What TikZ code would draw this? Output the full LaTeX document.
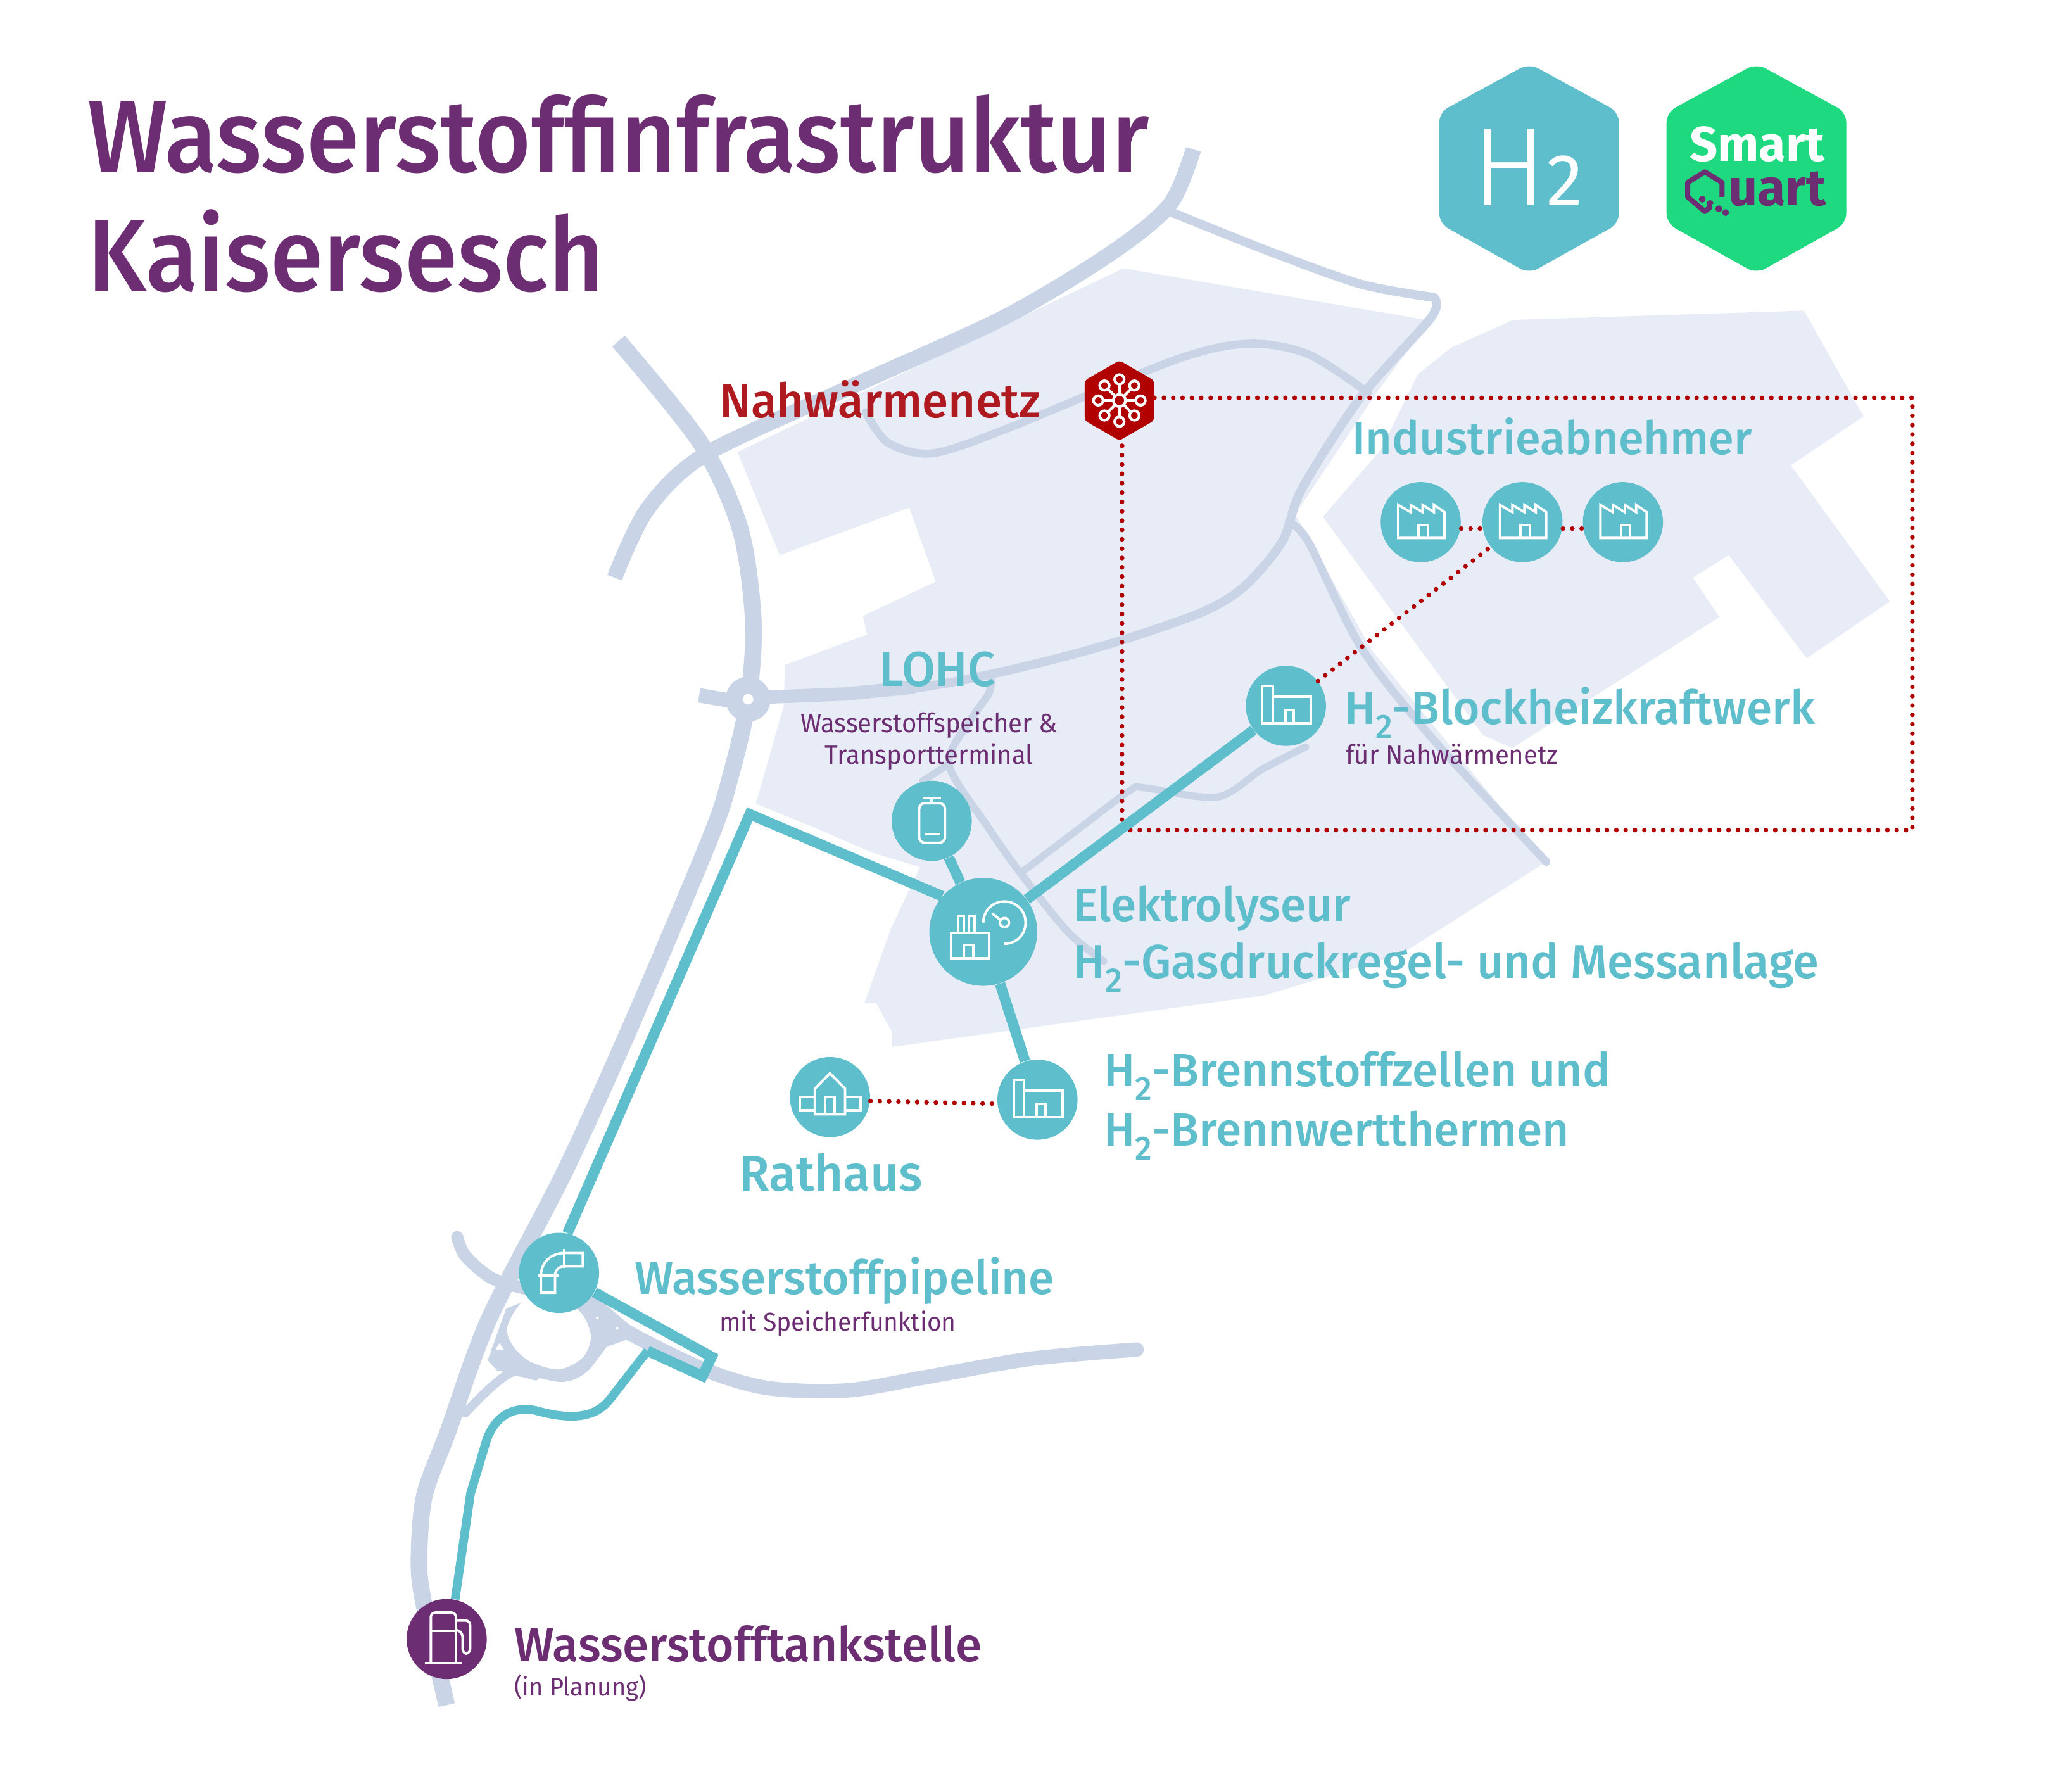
\documentclass[tikz,border=0pt]{standalone}
\usepackage{fontspec}
\usetikzlibrary{shapes.geometric}
\setmainfont{Fira Sans}
\newfontfamily\headfont[FakeStretch=0.935]{Fira Sans Medium}
\newfontfamily\labfont[FakeStretch=0.99]{Fira Sans Medium}
\newfontfamily\lightfont{Fira Sans Light}
\newfontfamily\subfont[FakeStretch=0.96]{Fira Sans}
\definecolor{hzteal}{HTML}{5FBECC}
\definecolor{roadcol}{HTML}{C9D5E6}
\definecolor{areacol}{HTML}{E8ECF7}
\definecolor{quartlila}{HTML}{6D2D73}
\definecolor{quartgreen}{HTML}{1ED97F}
\definecolor{netred}{HTML}{B00000}
\definecolor{labred}{HTML}{AE1A1F}
\newcommand{\Hz}{H\raisebox{-.3em}{\scalebox{.72}{2}}}
\tikzset{
  road/.style={draw=roadcol,line join=round,line cap=round,line width=#1},
  pipe/.style={draw=hzteal,line width=4.7pt,line join=miter},
  net/.style={draw=netred,line width=2.1pt,line cap=round,dash pattern=on 0pt off 4.2pt},
  dot/.style={circle,fill=hzteal,inner sep=0pt,minimum size=36pt},
  bigdot/.style={dot,minimum size=48.5pt},
  ico/.style={draw=white,line width=1.1pt,line join=miter},
  lab/.style={anchor=base west,inner sep=0pt,text=hzteal,font=\labfont\fontsize{21}{21}\selectfont},
  sublab/.style={anchor=base west,inner sep=0pt,text=quartlila,font=\subfont\fontsize{11.9}{11.9}\selectfont},
  fabrik/.pic={\draw[ico] (-17,12) -- (-17,-13) -- (-7.6,-7.5) -- (-7.6,-13) -- (1.5,-7.5) -- (1.5,-13)
      -- (10,-7.5) -- (10,-13) -- (18,-7.5) -- (18,12) -- cycle;
    \draw[ico] (-1.5,12) -- (-1.5,2) -- (5.5,2) -- (5.5,12);},
  werk/.pic={\draw[ico] (-18,13) rectangle (-10,-15);
    \draw[ico] (-10,-7) rectangle (19,13);
    \draw[ico] (-.5,13) -- (-.5,3) -- (6,3) -- (6,13);},
  rathauspic/.pic={\draw[ico] (-11.4,13) -- (-11.4,-6.4) -- (0,-18) -- (11.4,-6.4) -- (11.4,13) -- cycle;
    \draw[ico] (-11.4,0) -- (-23,0) -- (-23,10) -- (-11.4,10);
    \draw[ico] (11.4,0) -- (23,0) -- (23,10) -- (11.4,10);
    \draw[ico] (-3.7,13) -- (-3.7,0) -- (3.7,0) -- (3.7,13);},
  tankpic/.pic={\draw[ico] (-7,-17) -- (7,-17) (0,-17) -- (0,-13.4);
    \draw[ico,rounded corners=2.5pt] (-9.5,-13.4) rectangle (10,16.6);
    \draw[ico] (-5,10) -- (6.7,10);},
  elektropic/.pic={\draw[ico] (-24.4,.7) rectangle (4.6,20);
    \draw[ico] (-14.6,20) -- (-14.6,10) -- (-7.6,10) -- (-7.6,20);
    \draw[ico] (-19,.7) -- (-19,-12) -- (-14.6,-12) -- (-14.6,.7);
    \draw[ico] (-11,.7) -- (-11,-12) -- (-6.4,-12) -- (-6.4,.7);
    \draw[ico] (0,-7) .. controls (0,-16) and (7,-23) .. (16,-23) .. controls (25,-23) and (32,-16) .. (32,-7)
      .. controls (32,2) and (25,9) .. (16,9);
    \draw[ico] (16,-7) circle[radius=3.5];
    \draw[ico] (6.7,-14) -- (13.4,-8.7);},
  rohrpic/.pic={\draw[ico] (-15.5,2.2) -- (-.6,2.2) (4,-18) -- (4,-3.6);
    \draw[ico] (-13.7,2.2) .. controls (-13.7,-8) and (-6,-15) .. (4,-15) -- (18,-15) -- (18,-5) -- (4,-5)
      .. controls (0,-5) and (-3,-2) .. (-3,2.2) -- (-3,15) -- (-13.7,15) -- cycle;},
  saeulepic/.pic={\draw[ico,rounded corners=2pt] (-12,18) -- (-12,-20) -- (7,-20) -- (7,18);
    \draw[ico] (-16.5,18) -- (11.5,18) (-12,-6) -- (7,-6);
    \draw[ico,rounded corners=2pt] (7,-14) -- (17.7,-14) -- (17.7,11) -- (12,11) -- (12,-5) -- (7,-7);},
  netzpic/.pic={\draw[ico,line width=1.2pt] (0,0) circle[radius=4.6];
    \foreach \w in {0,45,...,315} {
      \draw[ico,line width=1.2pt] (\w:4.6) -- (\w:12);
      \draw[ico,line width=1.2pt] (\w:16) circle[radius=3.6];}}
}
\begin{document}
\begin{tikzpicture}[x=0.02087cm,y=-0.02087cm]
\useasboundingbox (0,0) rectangle (1567.8,1342.1);
% flaechen
\fill[areacol] (850,203) -- (1085,243) -- (1067,263) -- (1043,295) -- (980,389) -- (1038,492) -- (1125,598)
  -- (1170,652) -- (1060,722) -- (957,753) -- (675,792) -- (675,781) -- (663,759) -- (654,759) -- (674,703)
  -- (696,656) -- (660,645) -- (616,626) -- (572,608) -- (593,534) -- (594,503) -- (656,480) -- (653,466)
  -- (708,440) -- (688,384) -- (590,420) -- (558,342) -- cycle;
\fill[areacol] (1145,242) -- (1365,235) -- (1410,315) -- (1355,352) -- (1430,455) -- (1367,498) -- (1308,420)
  -- (1281,437) -- (1301,467) -- (1144,566) -- (1122,556) -- (1001,391) -- (1045,340) -- (1073,283) -- (1098,263) -- cycle;
% strassen
\draw[road=7pt,line cap=butt] plot[smooth] coordinates {(903,113) (885,155) (840,192) (760,240) (650,290) (535,343) (490,385) (465,437)};
\draw[road=7.5pt,line cap=butt] plot[smooth] coordinates {(468,258) (530,335) (560,400) (570,470) (566,530) (552,590) (537,635) (480,770) (428,885) (370,998) (339,1083) (321,1132) (317,1182) (321,1215) (338,1290)};
\draw[road=4pt] plot[smooth] coordinates {(885,160) (960,190) (1030,215) (1085,225)};
\draw[road=4pt] plot[smooth] coordinates {(1085,225) (1083,240) (1030,300) (985,370) (970,410) (940,445) (905,465) (830,490) (750,510) (680,522) (566,528)};
\draw[road=6pt] (566,528) -- (640,525) -- (690,520);
\draw[road=3.6pt] plot[smooth] coordinates {(1035,297) (990,268) (945,260) (890,272) (760,325) (705,343) (672,335) (655,312)};
\draw[road=3.6pt] plot[smooth] coordinates {(975,395) (990,410) (1030,490) (1085,560) (1170,652)};
\draw[road=3.4pt] plot[smooth] coordinates {(750,515) (748,525) (735,544) (718,578) (747,625) (771,659) (808,705) (835,727)};
\draw[road=3.2pt] (718,578) -- (698,591);
\draw[road=3.2pt] plot[smooth] coordinates {(773,660) (815,628) (855,598) (866,596) (921,603) (955,582) (988,565)};
\fill[roadcol] (566,529) circle[radius=17];
\fill[white] (566,529) circle[radius=4];
\draw[road=6.5pt,line cap=butt] (529,526) -- (552,530);
\draw[road=5.5pt] plot[smooth] coordinates {(346,936) (352,950) (372,967) (398,975)};
\draw[road=6.5pt] plot[smooth] coordinates {(445,985) (470,1005) (530,1035) (580,1050) (640,1052) (700,1042) (780,1028) (860,1021)};
\draw[road=4pt] plot[smooth] coordinates {(352,1069) (371,1050) (388,1038) (405,1041)};
\fill[roadcol] (383,990) -- (369,1029) -- (376,1037) -- (389,1039) .. controls (400,1040) and (412,1044) .. (423,1045.5)
  .. controls (433,1046) and (441,1041) .. (447,1035) -- (459,1019) -- (481,1011) -- (496,1019) -- (450,980) -- (420,975) -- cycle;
\fill[white] plot[smooth cycle] coordinates {(384,1003) (388,1018) (401,1030) (423,1036) (441,1027) (447,1010) (436,990) (400,982)};
\fill[white] (378,1016) -- (375,1021) -- (381,1021) -- cycle;
\fill[white] (370,1032) -- (364,1046) -- (376,1036) -- cycle;
\fill[white] (452,997) circle[radius=1] (467,1005) circle[radius=1];
% logos
\foreach \cx/\farbe in {1157/hzteal,1329/quartgreen}
  \fill[\farbe,rounded corners=4.5pt] (\cx,48) -- (\cx+68,85) -- (\cx+68,169) -- (\cx,207) -- (\cx-68,169) -- (\cx-68,85) -- cycle;
\node[anchor=base west,inner sep=0pt,text=white,font=\lightfont\fontsize{50}{50}\selectfont] (hzlogo) at (1113.5,155.5) {H\normalfont\fontsize{33}{33}\selectfont 2};
\node[anchor=base,inner sep=0pt,text=white,font=\bfseries\fontsize{22}{22}\selectfont] (smart) at (1329.5,122) {Smart};
\node[anchor=base east,inner sep=0pt,text=quartlila,font=\bfseries\fontsize{23}{23}\selectfont] (uart) at (1382,155.5) {uart};
\draw[quartlila,line width=2.3pt,line join=round] (1296,155) -- (1290,160) -- (1277,149) -- (1277,138) -- (1290,130) -- (1303,138) -- (1303,149);
\foreach \bx/\by in {1288/150.7,1293.9/153.9,1300.5/157.9,1305.7/160.8}
  \fill[quartlila] (\bx,\by) circle[radius=2.6];
\fill[quartgreen] (1296.8,155.8) circle[radius=1.8];
% knoten
\node[regular polygon,regular polygon sides=6,shape border rotate=30,fill=netred,inner sep=0pt,minimum size=36pt,rounded corners=1.5pt] (netz) at (847,303) {};
\node[dot] (ind1) at (1075,395) {};
\node[dot] (ind2) at (1152,395) {};
\node[dot] (ind3) at (1228,395) {};
\node[dot] (bhkw) at (973,534) {};
\node[dot] (lohc) at (705,621) {};
\node[bigdot] (elektro) at (744,705) {};
\node[dot] (brenn) at (785,832) {};
\node[dot] (rathaus) at (628,830) {};
\node[dot] (rohr) at (423,963) {};
\node[dot,fill=quartlila] (tanke) at (338,1240) {};
\coordinate (knick) at (567.3,616);
\coordinate (hakenA) at (538.5,1026.5);
\coordinate (hakenB) at (531.5,1041);
\coordinate (hakenC) at (490,1022);
\coordinate (netzO) at (1447,301);
\coordinate (netzU) at (1447,628);
\coordinate (netzL) at (849,628);
% verbindungen
\draw[net] (netz.east |- netzO) -- (netzO) -- (netzU) -- (netzL) -- (netz.south -| netzL);
\draw[net] (bhkw) -- (ind2);
\draw[net] ([yshift=-2.9pt]ind1.east) -- ([yshift=-2.9pt]ind2.west);
\draw[net] ([yshift=-2.9pt]ind2.east) -- ([yshift=-2.9pt]ind3.west);
\draw[net] ([yshift=-1.8pt]rathaus.east) -- ([yshift=-1.8pt]brenn.west);
\draw[pipe] (elektro) -- (bhkw);
\draw[pipe] (elektro) -- (lohc);
\draw[pipe] (elektro) -- (brenn);
\draw[pipe] (elektro.139) -- (knick) -- (rohr.78);
\draw[pipe] (rohr) -- (hakenA) -- (hakenB) -- (hakenC);
\draw[pipe,line width=3.9pt] (hakenC) -- (462,1058) .. controls (450,1074) and (430,1074) .. (405,1067)
  .. controls (385,1063) and (373,1075) .. (368,1090) -- (356,1130) -- (tanke.78);
% symbole
\pic at (netz) {netzpic};
\foreach \k in {ind1,ind2,ind3} \pic at (\k) {fabrik};
\pic at (bhkw) {werk};
\pic at (brenn) {werk};
\pic at (rathaus) {rathauspic};
\pic at (lohc) {tankpic};
\pic at (elektro) {elektropic};
\pic at (rohr) {rohrpic};
\pic at (tanke) {saeulepic};
% texte
\node[anchor=base west,inner sep=0pt,text=quartlila,font=\headfont\fontsize{46}{46}\selectfont] (titel1) at (66,130) {Wasserstoffinfrastruktur};
\node[anchor=base west,inner sep=0pt,text=quartlila,font=\headfont\fontsize{46}{46}\selectfont] (titel2) at (66,220) {Kaisersesch};
\node[lab,text=labred,font=\labfont\fontsize{21.4}{21.4}\selectfont] (lnetz) at (544,316) {Nahwärmenetz};
\node[lab,font=\labfont\fontsize{20.7}{20.7}\selectfont] (lind) at (1023,344) {Industrieabnehmer};
\node[lab,font=\labfont\fontsize{22}{22}\selectfont] (llohc) at (665,519) {LOHC};
\node[sublab,anchor=base] (llohcA) at (703,554) {Wasserstoffspeicher \&};
\node[sublab,anchor=base] (llohcB) at (703,578) {Transportterminal};
\node[lab] (lbhkw) at (1017,548) {\Hz-Blockheizkraftwerk};
\node[sublab] (lbhkwB) at (1018,578) {für Nahwärmenetz};
\node[lab] (lelek) at (812,697) {Elektrolyseur};
\node[lab,font=\labfont\fontsize{21.3}{21.3}\selectfont] (lgas) at (812,740) {\Hz-Gasdruckregel- und Messanlage};
\node[lab] (lbrennA) at (835,822) {\Hz-Brennstoffzellen und};
\node[lab] (lbrennB) at (835,867) {\Hz-Brennwertthermen};
\node[lab,font=\labfont\fontsize{22.5}{22.5}\selectfont] (lrat) at (559,901) {Rathaus};
\node[lab] (lrohr) at (480,979) {Wasserstoffpipeline};
\node[sublab,font=\subfont\fontsize{11.6}{11.6}\selectfont] (lrohrB) at (544,1007) {mit Speicherfunktion};
\node[lab,text=quartlila,font=\labfont\fontsize{21.5}{21.5}\selectfont] (ltank) at (389,1257) {Wasserstofftankstelle};
\node[sublab,font=\subfont\fontsize{11.3}{11.3}\selectfont] (ltankB) at (389,1283) {(in Planung)};
\end{tikzpicture}
\end{document}
